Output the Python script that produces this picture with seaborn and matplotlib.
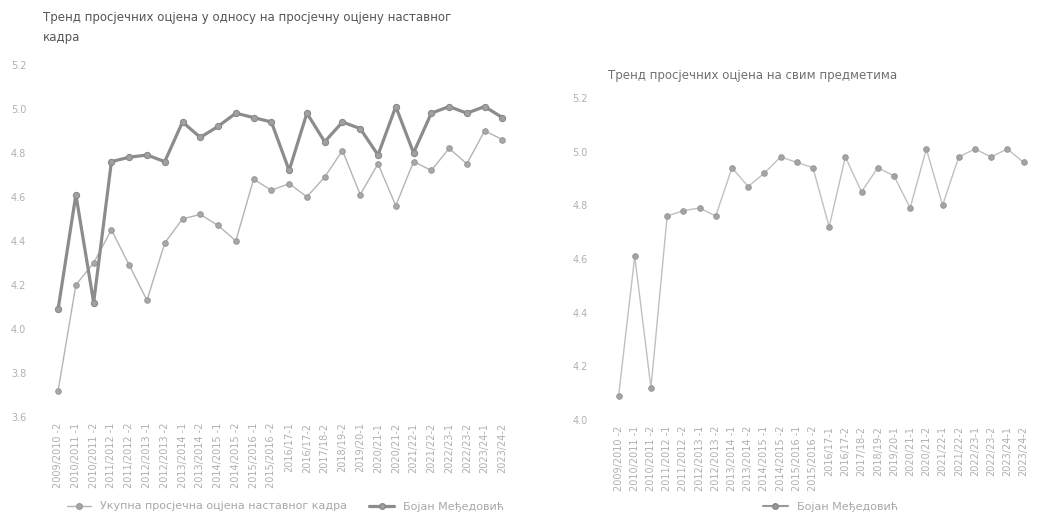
import numpy as np
import pandas as pd
import matplotlib
matplotlib.use('Agg')
import matplotlib.pyplot as plt
import seaborn as sns
from matplotlib.lines import Line2D

# semestri
semestri = [
    '2009/2010 -2', '2010/2011 -1', '2010/2011 -2', '2011/2012 -1', '2011/2012 -2',
    '2012/2013 -1', '2012/2013 -2', '2013/2014 -1', '2013/2014 -2', '2014/2015 -1',
    '2014/2015 -2', '2015/2016 -1', '2015/2016 -2', '2016/17-1', '2016/17-2',
    '2017/18-2', '2018/19-2', '2019/20-1', '2020/21-1', '2020/21-2',
    '2021/22-1', '2021/22-2', '2022/23-1', '2022/23-2', '2023/24-1', '2023/24-2',
]

# prosjecne ocjene nastavnika
bojan = [4.09, 4.61, 4.12, 4.76, 4.78, 4.79, 4.76, 4.94, 4.87, 4.92,
         4.98, 4.96, 4.94, 4.72, 4.98, 4.85, 4.94, 4.91, 4.79, 5.01,
         4.80, 4.98, 5.01, 4.98, 5.01, 4.96]

# ukupna prosjecna ocjena nastavnog kadra
ukupno = [3.72, 4.20, 4.30, 4.45, 4.29, 4.13, 4.39, 4.50, 4.52, 4.47,
          4.40, 4.68, 4.63, 4.66, 4.60, 4.69, 4.81, 4.61, 4.75, 4.56,
          4.76, 4.72, 4.82, 4.75, 4.90, 4.86]

ime_bojan = 'Бојан Међедовић'
ime_ukupno = 'Укупна просјечна оцјена наставног кадра'

df = pd.DataFrame({'semestar': semestri, 'bojan': bojan, 'ukupno': ukupno})

sns.set_style('white')
plt.rcParams['font.family'] = ['DejaVu Sans']

fig = plt.figure(figsize=(10.38, 5.18), dpi=100)
ax1 = fig.add_axes([0.044, 0.195, 0.452, 0.680])
ax2 = fig.add_axes([0.585, 0.189, 0.412, 0.622])

c_tamna = '#8c8c8c'
c_svijetla = '#b4b4b4'
c_tekst = '#b0b0b0'

# lijevi grafikon
sns.lineplot(data=df, x='semestar', y='ukupno', ax=ax1, sort=False,
             color=c_svijetla, linewidth=1, marker='o', markersize=4,
             markerfacecolor='#a8a8a8', markeredgecolor='#999999')
sns.lineplot(data=df, x='semestar', y='bojan', ax=ax1, sort=False,
             color=c_tamna, linewidth=2.3, marker='o', markersize=4.5,
             markerfacecolor='#a0a0a0', markeredgecolor='#888888')
ax1.set_ylim(3.6, 5.2)
ax1.set_yticks(np.arange(3.6, 5.21, 0.2))
ax1.set_xlim(-0.7, 25.7)

# desni grafikon
sns.lineplot(data=df, x='semestar', y='bojan', ax=ax2, sort=False,
             color='#c0c0c0', linewidth=1, marker='o', markersize=4,
             markerfacecolor='#a4a4a4', markeredgecolor='#999999')
ax2.set_ylim(4.0, 5.2)
ax2.set_yticks(np.arange(4.0, 5.21, 0.2))
ax2.set_xlim(-0.7, 25.7)

for ax in (ax1, ax2):
    ax.set_xlabel('')
    ax.set_ylabel('')
    sns.despine(ax=ax, left=True, bottom=True)
    ax.set_yticklabels([f'{v:.1f}' for v in ax.get_yticks()])
    ax.tick_params(axis='y', labelsize=7, colors=c_tekst, length=0, pad=14)
    ax.tick_params(axis='x', labelsize=7, colors=c_tekst, length=0, pad=4,
                   labelrotation=90)

fig.text(0.041, 0.967, 'Тренд просјечних оцјена у односу на просјечну оцјену наставног',
         fontsize=8.5, color='#555555', va='center')
fig.text(0.041, 0.928, 'кадра', fontsize=8.5, color='#555555', va='center')
fig.text(0.586, 0.855, 'Тренд просјечних оцјена на свим предметима',
         fontsize=8.5, color='#707070', va='center')

h_uk = Line2D([], [], color=c_svijetla, linewidth=1, marker='o', markersize=4,
              markerfacecolor='#a8a8a8', markeredgecolor='#999999')
h_bo = Line2D([], [], color=c_tamna, linewidth=2.3, marker='o', markersize=4,
              markerfacecolor='#a0a0a0', markeredgecolor='#888888')
h_bo2 = Line2D([], [], color='#999999', linewidth=1.5, marker='o', markersize=4,
               markerfacecolor='#999999', markeredgecolor='#888888')

fig.legend([h_uk, h_bo], [ime_ukupno, ime_bojan], loc='center',
           bbox_to_anchor=(0.275, 0.022), ncol=2, frameon=False, fontsize=8,
           labelcolor='#a8a8a8', handlelength=2.2, columnspacing=2.0)
fig.legend([h_bo2], [ime_bojan], loc='center', bbox_to_anchor=(0.80, 0.022),
           frameon=False, fontsize=8, labelcolor='#a8a8a8', handlelength=2.2)

fig.savefig('out.png', dpi=100, facecolor='white')
